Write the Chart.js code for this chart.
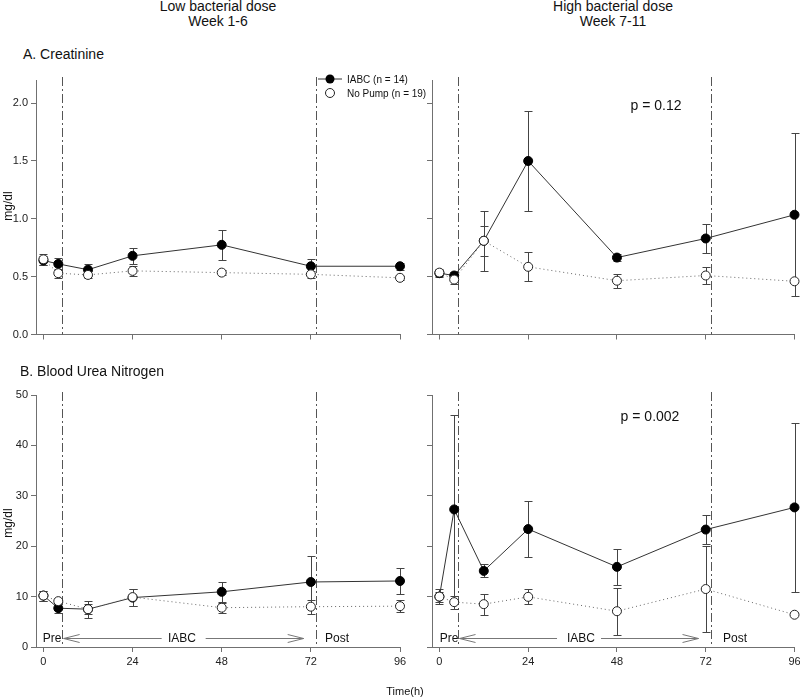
<!DOCTYPE html>
<html>
<head>
<meta charset="utf-8">
<script src="https://cdn.jsdelivr.net/npm/chart.js@4.4.0/dist/chart.umd.min.js"></script>
<style>
    body { margin: 0; background: #fff; }
    #page { position: relative; width: 800px; height: 699px; overflow: hidden;
            font-family: Arial, "Liberation Sans", sans-serif; color: #111; }
    canvas { position: absolute; }
    .t { position: absolute; white-space: nowrap; line-height: normal; }
    .c { transform: translate(-50%, -50%); }
    .l { transform: translate(0, -50%); }
    .r { transform: translate(-50%, -50%) rotate(-90deg); }
    .head { font-size: 14px; }
    .panel { font-size: 14px; }
    .unit { font-size: 12px; }
    .pval { font-size: 14px; }
    .leg { font-size: 10px; }
    .phase { font-size: 12px; }
</style>
</head>
<body>
<div id="page">
    <canvas id="creatLow"></canvas>
    <canvas id="creatHigh"></canvas>
    <canvas id="bunLow"></canvas>
    <canvas id="bunHigh"></canvas>

    <div class="t c head" style="left:218px; top:6px;">Low bacterial dose</div>
    <div class="t c head" style="left:218px; top:21px;">Week 1-6</div>
    <div class="t c head" style="left:613px; top:6px;">High bacterial dose</div>
    <div class="t c head" style="left:613px; top:21px;">Week 7-11</div>

    <div class="t l panel" style="left:23px; top:54px;">A. Creatinine</div>
    <div class="t l panel" style="left:20px; top:371px;">B. Blood Urea Nitrogen</div>

    <div class="t r unit" style="left:8px; top:206px;">mg/dl</div>
    <div class="t r unit" style="left:8px; top:523px;">mg/dl</div>

    <div class="t c pval" style="left:656px; top:105px;">p = 0.12</div>
    <div class="t c pval" style="left:650px; top:416px;">p = 0.002</div>

    <div class="t l leg" style="left:347px; top:79px;">IABC (n = 14)</div>
    <div class="t l leg" style="left:347px; top:93px;">No Pump (n = 19)</div>

    <div class="t c phase" style="left:52px; top:638px;">Pre</div>
    <div class="t c phase" style="left:182px; top:638px;">IABC</div>
    <div class="t c phase" style="left:337px; top:638px;">Post</div>
    <div class="t c phase" style="left:449px; top:638px;">Pre</div>
    <div class="t c phase" style="left:581px; top:638px;">IABC</div>
    <div class="t c phase" style="left:735px; top:638px;">Post</div>

    <div class="t c unit" style="left:405px; top:691px; font-size:11px;">Time(h)</div>
</div>

<script>
// sampling times (h) and pump on / off marks
const hours = [0, 4, 12, 24, 48, 72, 96];
const phaseMarks = [4.9, 73.3];
const hourTicks = [0, 24, 48, 72, 96];
const creatTicks = [0, 0.5, 1.0, 1.5, 2.0];
const bunTicks = [0, 10, 20, 30, 40, 50];

// creatinine, low dose
const creatLowIabc = [0.64, 0.61, 0.56, 0.68, 0.775, 0.59, 0.59];
const creatLowIabcErr = [0.04, 0.05, 0.05, 0.07, 0.13, 0.06, 0.03];
const creatLowNoPump = [0.65, 0.53, 0.515, 0.55, 0.535, 0.52, 0.49];
const creatLowNoPumpErr = [0.05, 0.04, 0.03, 0.04, 0.02, 0.03, 0.02];

// creatinine, high dose
const creatHighIabc = [0.53, 0.51, 0.81, 1.50, 0.665, 0.83, 1.035];
const creatHighIabcErr = [0.03, 0.03, 0.26, 0.43, 0.03, 0.125, 0.705];
const creatHighNoPump = [0.535, 0.475, 0.81, 0.585, 0.465, 0.51, 0.46];
const creatHighNoPumpErr = [0.03, 0.04, 0.13, 0.125, 0.06, 0.07, 0];

// blood urea nitrogen, low dose
const bunLowIabc = [10.2, 7.7, 7.5, 9.8, 10.95, 12.9, 13.1];
const bunLowIabcErr = [1.0, 1.0, 1.7, 1.7, 2.0, 5.2, 2.5];
const bunLowNoPump = [10.2, 9.1, 7.5, 9.9, 7.8, 8.0, 8.1];
const bunLowNoPumpErr = [1.0, 0.5, 1.0, 1.7, 1.0, 1.4, 1.2];

// blood urea nitrogen, high dose
const bunHighIabc = [10.0, 27.3, 15.1, 23.4, 15.9, 23.3, 27.7];
const bunHighIabcErr = [1.0, 18.7, 1.3, 5.5, 3.5, 2.9, 16.8];
const bunHighNoPump = [10.0, 8.9, 8.5, 9.95, 7.1, 11.5, 6.4];
const bunHighNoPumpErr = [1.5, 1.3, 2.1, 1.5, 4.7, 8.6, 0];

Chart.defaults.font.family = 'Arial, "Liberation Sans", sans-serif';
Chart.defaults.color = '#222';

const AXIS = '#707070';

const errorBars = {
    id: 'errorBars',
    beforeDatasetsDraw(chart) {
        const { ctx, scales: { x, y } } = chart;
        ctx.save();
        ctx.strokeStyle = '#444';
        ctx.lineWidth = 1;
        chart.data.datasets.forEach(ds => {
            ds.data.forEach((p, i) => {
                const e = ds.errors[i];
                if (!e) return;
                const px = Math.round(x.getPixelForValue(p.x)) + 0.5;
                const top = Math.round(y.getPixelForValue(p.y + e)) + 0.5;
                const bot = Math.round(y.getPixelForValue(p.y - e)) + 0.5;
                ctx.beginPath();
                ctx.moveTo(px, top); ctx.lineTo(px, bot);
                ctx.moveTo(px - 4, top); ctx.lineTo(px + 4, top);
                ctx.moveTo(px - 4, bot); ctx.lineTo(px + 4, bot);
                ctx.stroke();
            });
        });
        ctx.restore();
    }
};

const phaseLines = {
    id: 'phaseLines',
    beforeDatasetsDraw(chart) {
        const { ctx, chartArea, scales: { x } } = chart;
        ctx.save();
        ctx.strokeStyle = '#555';
        ctx.lineWidth = 1;
        ctx.setLineDash([9, 3, 2, 3]);
        phaseMarks.forEach(h => {
            const px = Math.round(x.getPixelForValue(h)) + 0.5;
            ctx.beginPath();
            ctx.moveTo(px, chartArea.top - 3);
            ctx.lineTo(px, chartArea.bottom);
            ctx.stroke();
        });
        ctx.restore();
    }
};

const periodArrow = {
    id: 'periodArrow',
    afterDatasetsDraw(chart) {
        const { ctx, chartArea, scales: { x } } = chart;
        const x1 = x.getPixelForValue(phaseMarks[0]) + 2;
        const x2 = x.getPixelForValue(phaseMarks[1]) - 12;
        const y = Math.round(chartArea.bottom - 9) + 0.5;
        const mid = (x1 + x2) / 2;
        ctx.save();
        ctx.strokeStyle = '#777';
        ctx.lineWidth = 1;
        ctx.beginPath();
        ctx.moveTo(x1, y); ctx.lineTo(mid - 22, y);
        ctx.moveTo(mid + 22, y); ctx.lineTo(x2, y);
        ctx.moveTo(x1 + 16, y - 4); ctx.lineTo(x1, y); ctx.lineTo(x1 + 16, y + 4);
        ctx.moveTo(x2 - 16, y - 4); ctx.lineTo(x2, y); ctx.lineTo(x2 - 16, y + 4);
        ctx.stroke();
        ctx.restore();
    }
};

const legendMarks = {
    id: 'legendMarks',
    afterDraw(chart) {
        const { ctx, chartArea } = chart;
        const x = chartArea.right - 70;
        const y1 = chartArea.top - 1, y2 = chartArea.top + 13;
        ctx.save();
        ctx.strokeStyle = '#333';
        ctx.lineWidth = 1;
        ctx.beginPath(); ctx.moveTo(x - 12, y1); ctx.lineTo(x + 12, y1); ctx.stroke();
        ctx.fillStyle = '#000';
        ctx.beginPath(); ctx.arc(x, y1, 4.5, 0, Math.PI * 2); ctx.fill();
        ctx.fillStyle = '#fff';
        ctx.strokeStyle = '#222';
        ctx.beginPath(); ctx.arc(x, y2, 4.5, 0, Math.PI * 2); ctx.fill(); ctx.stroke();
        ctx.restore();
    }
};

const toPoints = vals => hours.map((h, i) => ({ x: h, y: vals[i] }));

function makePanel(id, box, area, opts) {
    const canvas = document.getElementById(id);
    canvas.width = box.w;
    canvas.height = box.h;
    canvas.style.left = box.x + 'px';
    canvas.style.top = box.y + 'px';

    const yWidth = area.l - box.x;
    const xHeight = box.y + box.h - area.b;

    const datasets = [
        {
            label: 'IABC (n = 14)',
            data: toPoints(opts.iabc),
            errors: opts.iabcErr,
            borderColor: '#333',
            borderWidth: 1,
            pointRadius: 4.5,
            pointBackgroundColor: '#000',
            pointBorderColor: '#000',
            pointBorderWidth: 1,
            clip: false,
            order: 1,
        },
        {
            label: 'No Pump (n = 19)',
            data: toPoints(opts.noPump),
            errors: opts.noPumpErr,
            borderColor: '#666',
            borderWidth: 1,
            borderDash: [1, 3],
            pointRadius: 4.5,
            pointBackgroundColor: '#fff',
            pointBorderColor: '#222',
            pointBorderWidth: 1,
            clip: false,
            order: 0,
        },
    ];

    return new Chart(canvas.getContext('2d'), {
        type: 'line',
        data: { datasets },
        options: {
            responsive: false,
            animation: false,
            events: [],
            layout: {
                padding: { top: area.t - box.y, right: box.x + box.w - area.r, left: 0, bottom: 0 }
            },
            plugins: { legend: { display: false }, tooltip: { enabled: false } },
            scales: {
                x: {
                    type: 'linear',
                    min: -2,
                    max: 96,
                    afterBuildTicks: s => { s.ticks = hourTicks.map(v => ({ value: v })); },
                    afterFit: s => { s.height = xHeight; s.paddingLeft = 0; s.paddingRight = 0; },
                    grid: { drawOnChartArea: false, drawTicks: true, tickLength: 5, color: AXIS },
                    border: { color: AXIS },
                    ticks: { display: opts.xLabels, maxRotation: 0, padding: 3, font: { size: 11 } },
                },
                y: {
                    type: 'linear',
                    min: 0,
                    max: opts.yMax,
                    afterBuildTicks: s => { s.ticks = opts.yTicks.map(v => ({ value: v })); },
                    afterFit: s => { s.width = yWidth; s.paddingTop = 0; s.paddingBottom = 0; },
                    grid: { drawOnChartArea: false, drawTicks: true, tickLength: 5, color: AXIS },
                    border: { color: AXIS },
                    ticks: {
                        display: opts.yLabels,
                        padding: 3,
                        font: { size: 11 },
                        callback: v => opts.yFmt(v),
                    },
                },
            },
        },
        plugins: [phaseLines, errorBars].concat(opts.extra || []),
    });
}

makePanel('creatLow', { x: 0, y: 70, w: 410, h: 300 }, { l: 36, t: 80, r: 400, b: 334.5 }, {
    iabc: creatLowIabc, iabcErr: creatLowIabcErr,
    noPump: creatLowNoPump, noPumpErr: creatLowNoPumpErr,
    yMax: 2.2, yTicks: creatTicks, yFmt: v => v.toFixed(1),
    xLabels: false, yLabels: true, extra: [legendMarks],
});

makePanel('creatHigh', { x: 410, y: 70, w: 390, h: 300 }, { l: 432, t: 80, r: 796, b: 334.5 }, {
    iabc: creatHighIabc, iabcErr: creatHighIabcErr,
    noPump: creatHighNoPump, noPumpErr: creatHighNoPumpErr,
    yMax: 2.2, yTicks: creatTicks, yFmt: v => v.toFixed(1),
    xLabels: false, yLabels: false,
});

makePanel('bunLow', { x: 0, y: 380, w: 410, h: 319 }, { l: 36, t: 395, r: 400, b: 647 }, {
    iabc: bunLowIabc, iabcErr: bunLowIabcErr,
    noPump: bunLowNoPump, noPumpErr: bunLowNoPumpErr,
    yMax: 50, yTicks: bunTicks, yFmt: v => String(v),
    xLabels: true, yLabels: true, extra: [periodArrow],
});

makePanel('bunHigh', { x: 410, y: 380, w: 390, h: 319 }, { l: 432, t: 395, r: 796, b: 647 }, {
    iabc: bunHighIabc, iabcErr: bunHighIabcErr,
    noPump: bunHighNoPump, noPumpErr: bunHighNoPumpErr,
    yMax: 50, yTicks: bunTicks, yFmt: v => String(v),
    xLabels: true, yLabels: false, extra: [periodArrow],
});
</script>
</body>
</html>
